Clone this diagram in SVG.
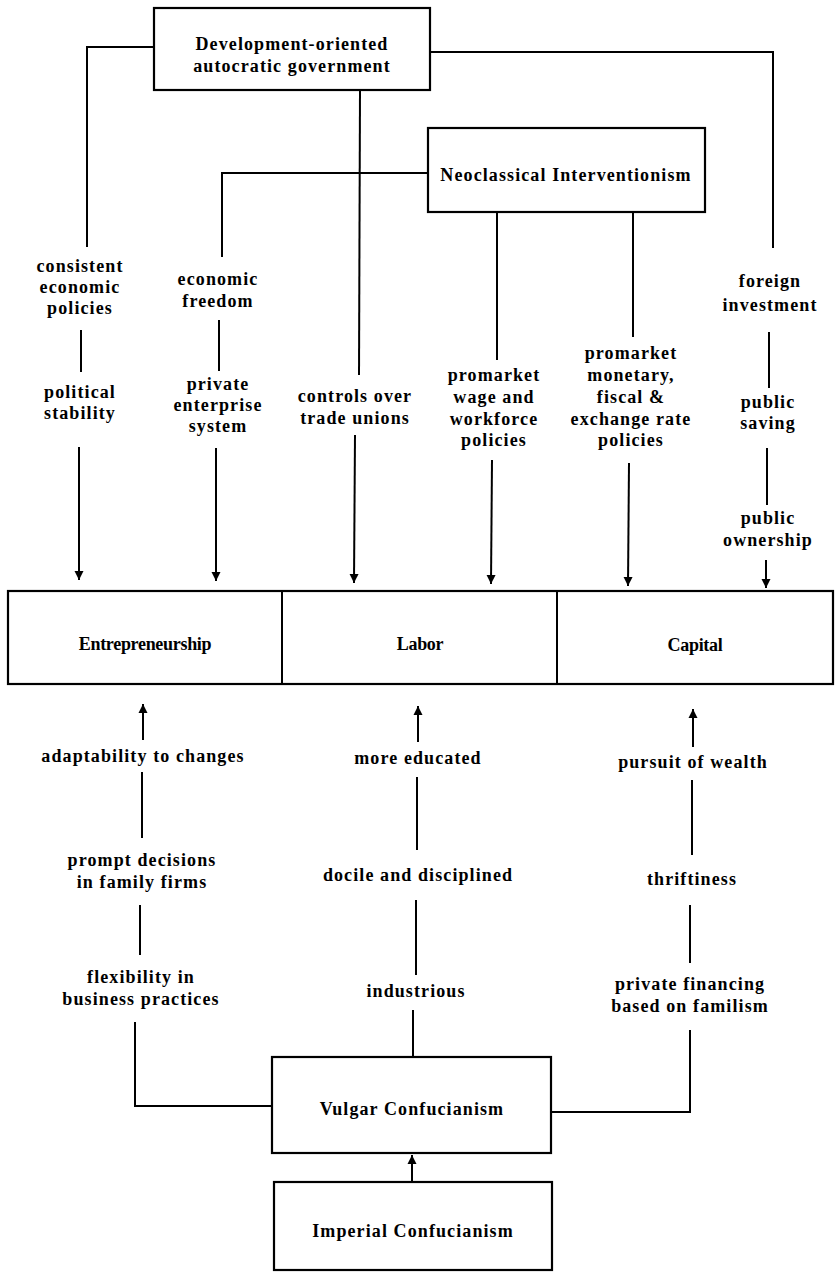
<svg xmlns="http://www.w3.org/2000/svg" width="838" height="1277" viewBox="0 0 838 1277">
<style>
.box{fill:#fff;stroke:#000;stroke-width:2.2}
.ln{fill:none;stroke:#000;stroke-width:2}
text{font-family:"Liberation Serif","DejaVu Serif",serif;font-weight:bold;font-size:18px;letter-spacing:1.1px;text-anchor:middle;fill:#000}
.lb{font-size:18px;letter-spacing:-0.3px}
</style>
<defs>
<marker id="ah" viewBox="0 0 10 10" refX="10" refY="5" markerWidth="4.5" markerHeight="5" markerUnits="strokeWidth" orient="auto">
<path d="M0,0 L10,5 L0,10 z" fill="#000"/>
</marker>
</defs>
<rect width="838" height="1277" fill="#fff"/>
<g id="connectors">
<polyline class="ln" points="154,47 87,47 87,247"/>
<polyline class="ln" points="430,52 773,52 773,248"/>
<line class="ln" x1="360" y1="90" x2="359" y2="375"/>
<polyline class="ln" points="428,173 222,173 222,257"/>
<line class="ln" x1="497" y1="212" x2="497" y2="360"/>
<line class="ln" x1="633" y1="212" x2="633" y2="337"/>
<line class="ln" x1="81" y1="330" x2="81" y2="372"/>
<line class="ln" x1="79" y1="447" x2="79" y2="580" marker-end="url(#ah)"/>
<line class="ln" x1="219" y1="320" x2="219" y2="371"/>
<line class="ln" x1="216" y1="448" x2="216" y2="581" marker-end="url(#ah)"/>
<line class="ln" x1="355" y1="435" x2="354" y2="583" marker-end="url(#ah)"/>
<line class="ln" x1="492" y1="460" x2="491" y2="584" marker-end="url(#ah)"/>
<line class="ln" x1="629" y1="463" x2="628" y2="586" marker-end="url(#ah)"/>
<line class="ln" x1="769" y1="332" x2="769" y2="388"/>
<line class="ln" x1="767" y1="448" x2="767" y2="505"/>
<line class="ln" x1="766" y1="560" x2="766" y2="588" marker-end="url(#ah)"/>
<line class="ln" x1="143" y1="740" x2="143" y2="704" marker-end="url(#ah)"/>
<line class="ln" x1="418" y1="742" x2="418" y2="706" marker-end="url(#ah)"/>
<line class="ln" x1="693" y1="747" x2="693" y2="709" marker-end="url(#ah)"/>
<line class="ln" x1="142" y1="772" x2="142" y2="838"/>
<line class="ln" x1="417" y1="777" x2="417" y2="850"/>
<line class="ln" x1="692" y1="780" x2="692" y2="855"/>
<line class="ln" x1="140" y1="905" x2="140" y2="955"/>
<line class="ln" x1="416" y1="900" x2="416" y2="975"/>
<line class="ln" x1="690" y1="905" x2="690" y2="963"/>
<line class="ln" x1="413" y1="1010" x2="413" y2="1057"/>
<polyline class="ln" points="135,1022 135,1106 272,1106"/>
<polyline class="ln" points="551,1112 690,1112 690,1030"/>
<line class="ln" x1="412" y1="1182" x2="412" y2="1155" marker-end="url(#ah)"/>
</g>
<g id="gov">
<rect class="box" x="154" y="8" width="276" height="82"/>
<text x="292" y="50">Development-oriented</text>
<text x="292" y="72">autocratic government</text>
</g>
<g id="neo">
<rect class="box" x="428" y="128" width="277" height="84"/>
<text x="566" y="181">Neoclassical Interventionism</text>
</g>
<g id="labels-top">
<text x="80" y="272">consistent</text>
<text x="80" y="293">economic</text>
<text x="80" y="314">policies</text>
<text x="80" y="398">political</text>
<text x="80" y="419">stability</text>
<text x="218" y="285">economic</text>
<text x="218" y="307">freedom</text>
<text x="218" y="390">private</text>
<text x="218" y="411">enterprise</text>
<text x="218" y="432">system</text>
<text x="355" y="402">controls over</text>
<text x="355" y="424">trade unions</text>
<text x="494" y="381">promarket</text>
<text x="494" y="403">wage and</text>
<text x="494" y="425">workforce</text>
<text x="494" y="446">policies</text>
<text x="631" y="359">promarket</text>
<text x="631" y="381">monetary,</text>
<text x="631" y="403">fiscal &amp;</text>
<text x="631" y="425">exchange rate</text>
<text x="631" y="446">policies</text>
<text x="770" y="287">foreign</text>
<text x="770" y="311">investment</text>
<text x="768" y="408">public</text>
<text x="768" y="429">saving</text>
<text x="768" y="524">public</text>
<text x="768" y="546">ownership</text>
</g>
<g id="factors">
<rect class="box" x="8" y="591" width="825" height="93"/>
<line class="ln" x1="282" y1="591" x2="282" y2="684"/>
<line class="ln" x1="557" y1="591" x2="557" y2="684"/>
<text class="lb" x="145" y="650">Entrepreneurship</text>
<text class="lb" x="420" y="650">Labor</text>
<text class="lb" x="695" y="651">Capital</text>
</g>
<g id="labels-bottom">
<text x="143" y="762">adaptability to changes</text>
<text x="418" y="764">more educated</text>
<text x="693" y="768">pursuit of wealth</text>
<text x="142" y="866">prompt decisions</text>
<text x="142" y="888">in family firms</text>
<text x="418" y="881">docile and disciplined</text>
<text x="692" y="885">thriftiness</text>
<text x="141" y="983">flexibility in</text>
<text x="141" y="1005">business practices</text>
<text x="416" y="997">industrious</text>
<text x="690" y="990">private financing</text>
<text x="690" y="1012">based on familism</text>
</g>
<g id="vulgar">
<rect class="box" x="272" y="1057" width="279" height="96"/>
<text x="412" y="1115">Vulgar Confucianism</text>
</g>
<g id="imperial">
<rect class="box" x="274" y="1182" width="278" height="88"/>
<text x="413" y="1237">Imperial Confucianism</text>
</g>
</svg>
